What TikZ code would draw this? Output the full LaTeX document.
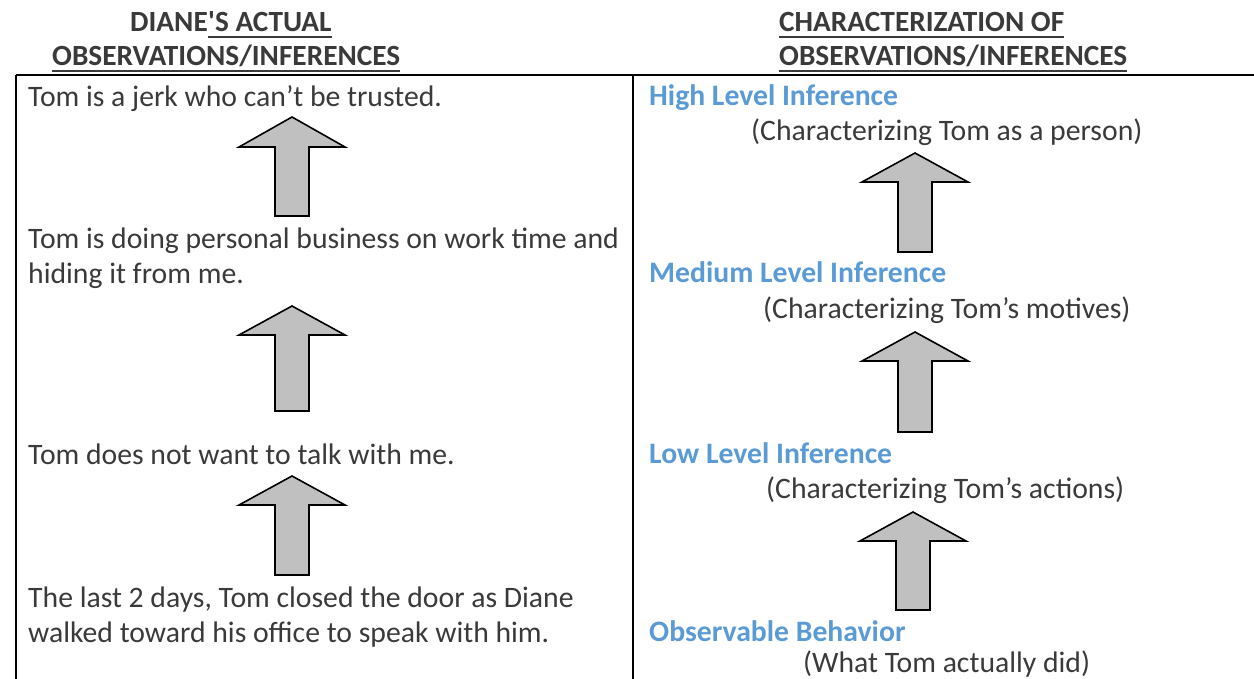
\documentclass[tikz,border=0pt]{standalone}
\usepackage{fontspec}
\setmainfont{Carlito}[Ligatures=TeXOff]
\usepackage{tikz}
\usetikzlibrary{positioning}

\definecolor{textgray}{HTML}{3A3A3A}
\definecolor{levelblue}{HTML}{5B9BD5}
\definecolor{arrowgray}{HTML}{C0C0C0}

\tikzset{
  cell/.style={anchor=base west, inner sep=0pt, text=textgray, font=\fontsize{29.7}{35}\selectfont},
  level/.style={cell, text=levelblue, font=\fontsize{29.7}{35}\selectfont\bfseries},
  head/.style={cell, font=\fontsize{29.3}{35}\selectfont\bfseries},
  uline/.style={textgray, line width=1.6pt},
  rule/.style={black, line width=1.8pt},
  blockarrow/.style={draw=black, fill=arrowgray, line width=1.6pt, line join=miter}
}

% up-pointing block arrow: centre x, tip y, head base y, tail y
\newcommand{\blockup}[4]{%
  \draw[blockarrow] ({#1-17},#4) -- ({#1-17},#3) -- ({#1-53},#3) -- (#1,#2)
    -- ({#1+53},#3) -- ({#1+17},#3) -- ({#1+17},#4) -- cycle;}

\begin{document}
\begin{tikzpicture}[x=1pt,y=-1pt]
	\useasboundingbox (0,0) rectangle (1254,679);

	% headers
	\node[head] (hl1a) at (130,32) {DIANE};
	\node[head] (hl1b) at (hl1a.base east) {'S ACTUAL};
	\node[head] (hl2) at (52,66) {OBSERVATIONS/INFERENCES};
	\node[head] (hr1) at (779,32) {CHARACTERIZATION OF};
	\node[head] (hr2) at (779,66) {OBSERVATIONS/INFERENCES};
	\draw[uline] ([yshift=-5pt]hl1b.base west) -- ([yshift=-5pt]hl1b.base east);
	\draw[uline] ([yshift=-5pt]hl2.base west) -- ([yshift=-5pt]hl2.base east);
	\draw[uline] ([yshift=-5pt]hr1.base west) -- ([yshift=-5pt]hr1.base east);
	\draw[uline] ([yshift=-5pt]hr2.base west) -- ([yshift=-5pt]hr2.base east);

	% table lines
	\coordinate (tl) at (16,75);
	\coordinate (tr) at (1254,75);
	\coordinate (tm) at (633,75);
	\draw[rule] (tl) -- (tr);
	\draw[rule] (tl) -- (16,679);
	\draw[rule] (tm) -- (633,679);

	% left column
	\node[cell] (jerk) at (28,107) {Tom is a jerk who can’t be trusted.};
	\node[cell] (biz1) at (28,249) {Tom is doing personal business on work time and};
	\node[cell] (biz2) at (28,284) {hiding it from me.};
	\node[cell] (talk) at (28,464) {Tom does not want to talk with me.};
	\node[cell] (door1) at (28,607) {The last 2 days, Tom closed the door as Diane};
	\node[cell] (door2) at (28,642) {walked toward his office to speak with him.};
	\blockup{292}{117}{147}{216}
	\blockup{292}{306}{335}{411}
	\blockup{292}{476}{505}{575}

	% right column
	\node[level] (high) at (649,106) {High Level Inference};
	\node[cell] (highd) at (751,141) {(Characterizing Tom as a person)};
	\node[level] (med) at (649,283) {Medium Level Inference};
	\node[cell] (medd) at (763,319) {(Characterizing Tom’s motives)};
	\node[level] (low) at (649,463) {Low Level Inference};
	\node[cell] (lowd) at (766,498) {(Characterizing Tom’s actions)};
	\node[level] (obs) at (649,641) {Observable Behavior};
	\node[cell] (obsd) at (803,672) {(What Tom actually did)};
	\blockup{915}{153}{182}{252}
	\blockup{915}{332}{361}{432}
	\blockup{913}{512}{541}{610}
\end{tikzpicture}
\end{document}
